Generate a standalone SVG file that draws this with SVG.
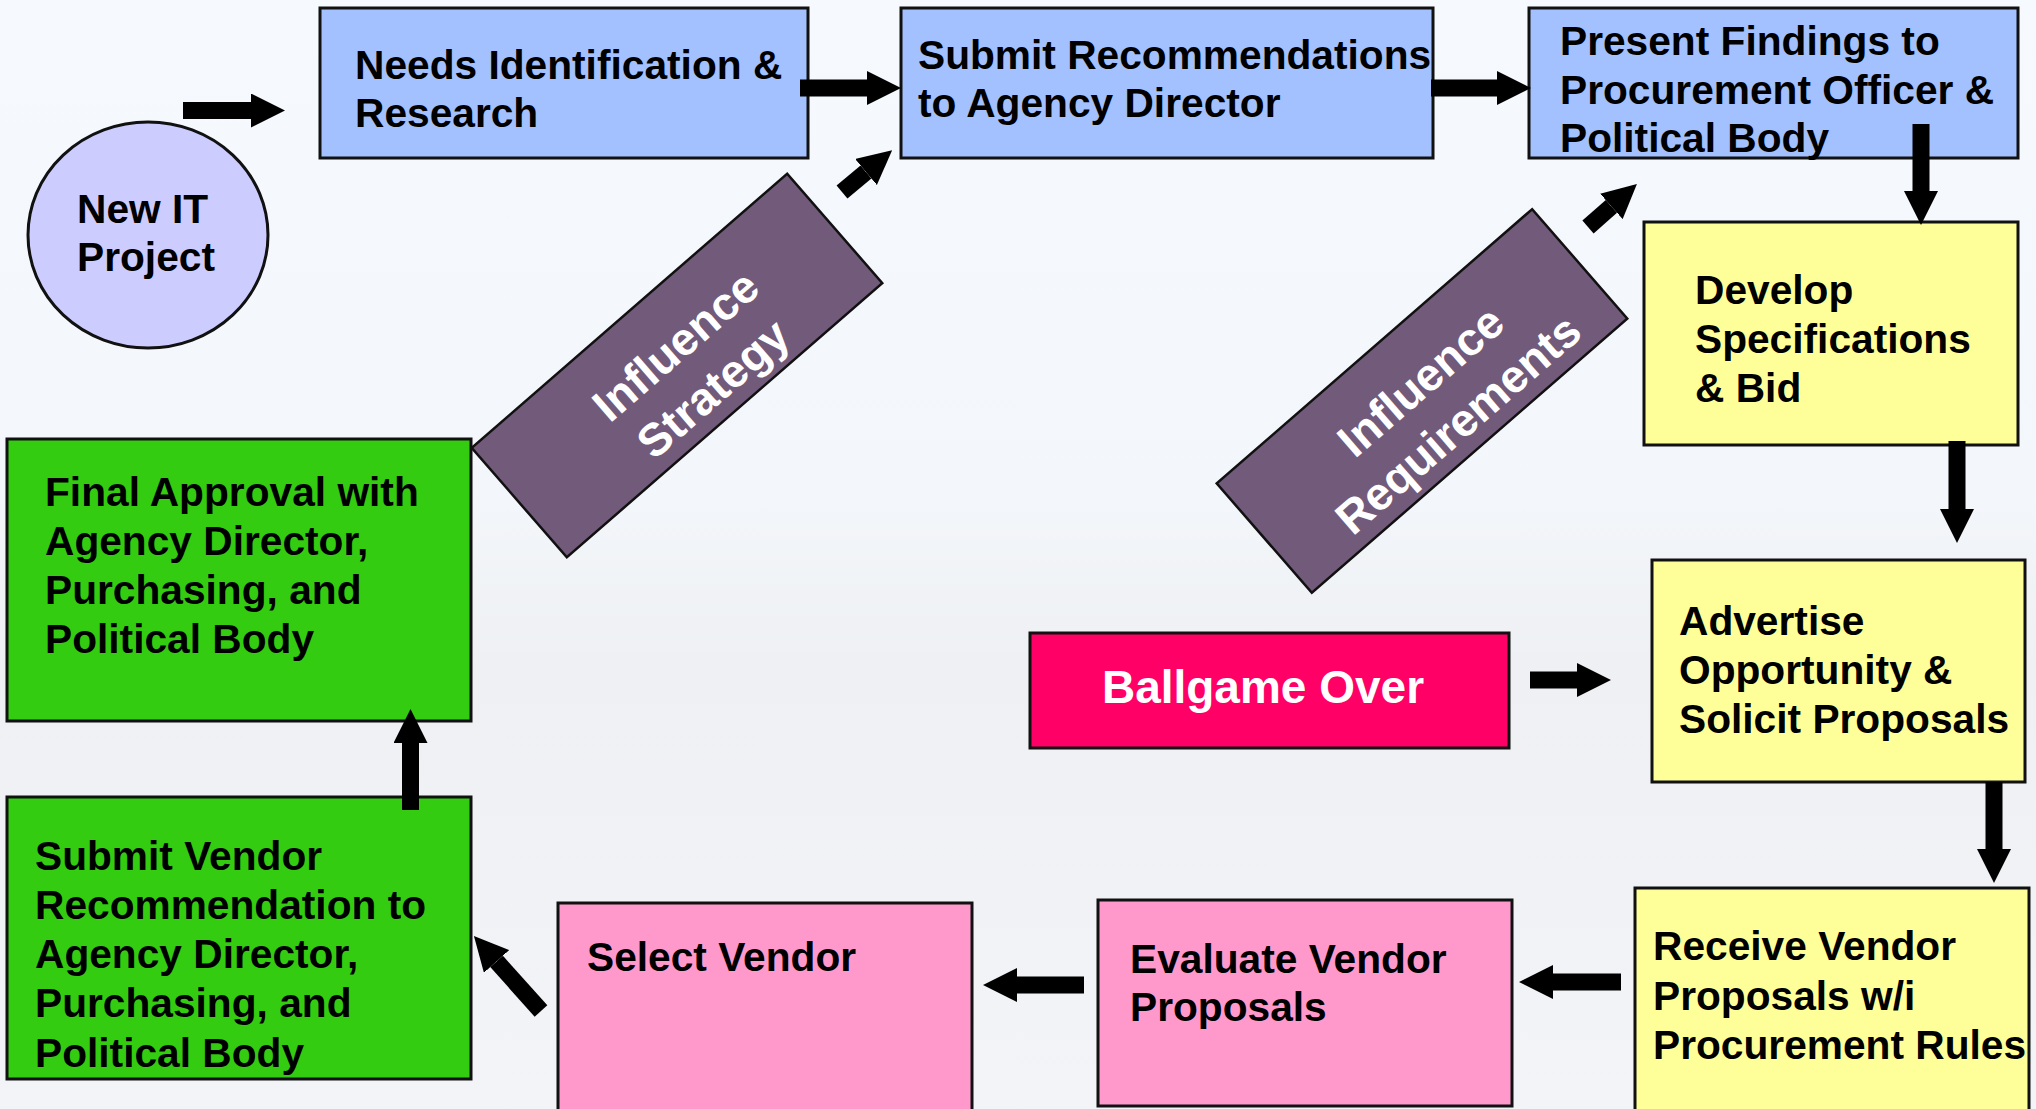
<svg xmlns="http://www.w3.org/2000/svg" width="2036" height="1109" viewBox="0 0 2036 1109">
<defs>
<linearGradient id="bg" x1="0" y1="0" x2="0" y2="1">
<stop offset="0" stop-color="#F6F9FD"/>
<stop offset="0.45" stop-color="#F3F6FA"/>
<stop offset="0.6" stop-color="#EEF0F3"/>
<stop offset="1" stop-color="#F2F4F8"/>
</linearGradient>
<marker id="head" viewBox="0 0 34 34" markerWidth="34" markerHeight="34" refX="0" refY="17" orient="auto" markerUnits="userSpaceOnUse">
<path d="M0,0 L34,17 L0,34 Z" fill="#000"/>
</marker>
<style>
.box{stroke:#111;stroke-width:3}
.blue{fill:#A3C1FF}
.yellow{fill:#FFFF99}
.pink{fill:#FF99CC}
.green{fill:#33CC11}
.infl{fill:#725A7A;stroke:#111;stroke-width:2.5}
.t{font-family:"Liberation Sans",Arial,sans-serif;font-weight:bold;font-size:40.7px;fill:#000}
.w{font-family:"Liberation Sans",Arial,sans-serif;font-weight:bold;font-size:46px;fill:#fff}
.c{stroke:#000;stroke-width:17;fill:none;marker-end:url(#head)}
</style>
</defs>
<rect x="0" y="0" width="2036" height="1109" fill="url(#bg)"/>

<g id="new-it-project">
<ellipse cx="148" cy="235" rx="120" ry="113" fill="#CCCCFF" stroke="#111" stroke-width="3"/>
<text class="t" x="77" y="223">New IT</text>
<text class="t" x="77" y="271">Project</text>
</g>

<g id="needs-identification">
<rect class="box blue" x="320" y="8" width="488" height="150"/>
<text class="t" x="355" y="79">Needs Identification &amp;</text>
<text class="t" x="355" y="127">Research</text>
</g>

<g id="submit-recommendations">
<rect class="box blue" x="901" y="8" width="532" height="150"/>
<text class="t" x="918" y="69">Submit Recommendations</text>
<text class="t" x="918" y="117">to Agency Director</text>
</g>

<g id="present-findings">
<rect class="box blue" x="1529" y="8" width="489" height="150"/>
<text class="t" x="1560" y="55">Present Findings to</text>
<text class="t" x="1560" y="104">Procurement Officer &amp;</text>
<text class="t" x="1560" y="152">Political Body</text>
</g>

<g id="develop-specifications">
<rect class="box yellow" x="1644" y="222" width="374" height="223"/>
<text class="t" x="1695" y="304">Develop</text>
<text class="t" x="1695" y="353">Specifications</text>
<text class="t" x="1695" y="402">&amp; Bid</text>
</g>

<g id="advertise-opportunity">
<rect class="box yellow" x="1652" y="560" width="373" height="222"/>
<text class="t" x="1679" y="635">Advertise</text>
<text class="t" x="1679" y="684">Opportunity &amp;</text>
<text class="t" x="1679" y="733">Solicit Proposals</text>
</g>

<g id="receive-vendor-proposals">
<rect class="box yellow" x="1635" y="888" width="394" height="235"/>
<text class="t" x="1653" y="960">Receive Vendor</text>
<text class="t" x="1653" y="1010">Proposals w/i</text>
<text class="t" x="1653" y="1059">Procurement Rules</text>
</g>

<g id="evaluate-vendor-proposals">
<rect class="box pink" x="1098" y="900" width="414" height="206"/>
<text class="t" x="1130" y="973">Evaluate Vendor</text>
<text class="t" x="1130" y="1021">Proposals</text>
</g>

<g id="select-vendor">
<rect class="box pink" x="558" y="903" width="414" height="220"/>
<text class="t" x="587" y="971">Select Vendor</text>
</g>

<g id="submit-vendor-recommendation">
<rect class="box green" x="7" y="797" width="464" height="282"/>
<text class="t" x="35" y="870">Submit Vendor</text>
<text class="t" x="35" y="919">Recommendation to</text>
<text class="t" x="35" y="968">Agency Director,</text>
<text class="t" x="35" y="1017">Purchasing, and</text>
<text class="t" x="35" y="1067">Political Body</text>
</g>

<g id="final-approval">
<rect class="box green" x="7" y="439" width="464" height="282"/>
<text class="t" x="45" y="506">Final Approval with</text>
<text class="t" x="45" y="555">Agency Director,</text>
<text class="t" x="45" y="604">Purchasing, and</text>
<text class="t" x="45" y="653">Political Body</text>
</g>

<g id="ballgame-over">
<rect x="1030" y="633" width="479" height="115" fill="#FF0066" stroke="#111" stroke-width="3"/>
<text class="w" x="1263" y="703" text-anchor="middle">Ballgame Over</text>
</g>

<g id="influence-strategy" transform="translate(677,365.5) rotate(-41)">
<rect class="infl" x="-209" y="-72.5" width="418" height="145"/>
<text class="w" x="12" y="0" text-anchor="middle">Influence</text>
<text class="w" x="12" y="57" text-anchor="middle">Strategy</text>
</g>

<g id="influence-requirements" transform="translate(1422,401) rotate(-41)">
<rect class="infl" x="-209" y="-72.5" width="418" height="145"/>
<text class="w" x="12" y="0" text-anchor="middle">Influence</text>
<text class="w" x="12" y="57" text-anchor="middle">Requirements</text>
</g>

<g id="connectors">
<line class="c" x1="183" y1="110.5" x2="251" y2="110.5"/>
<line class="c" x1="800" y1="88" x2="867" y2="88"/>
<line class="c" x1="1431" y1="88" x2="1497" y2="88"/>
<line class="c" x1="1921" y1="124" x2="1921" y2="191"/>
<line class="c" x1="1957" y1="441" x2="1957" y2="509"/>
<line class="c" x1="1994" y1="782" x2="1994" y2="849"/>
<line class="c" x1="1621" y1="982" x2="1553" y2="982"/>
<line class="c" x1="1084" y1="985" x2="1017" y2="985"/>
<line class="c" x1="541" y1="1011" x2="496.6" y2="961.4"/>
<line class="c" x1="410.5" y1="810" x2="410.5" y2="743"/>
<line class="c" x1="842" y1="192" x2="866" y2="172"/>
<line class="c" x1="1588" y1="227" x2="1611.4" y2="206.4"/>
<line class="c" x1="1530" y1="680" x2="1577" y2="680"/>
</g>
</svg>
